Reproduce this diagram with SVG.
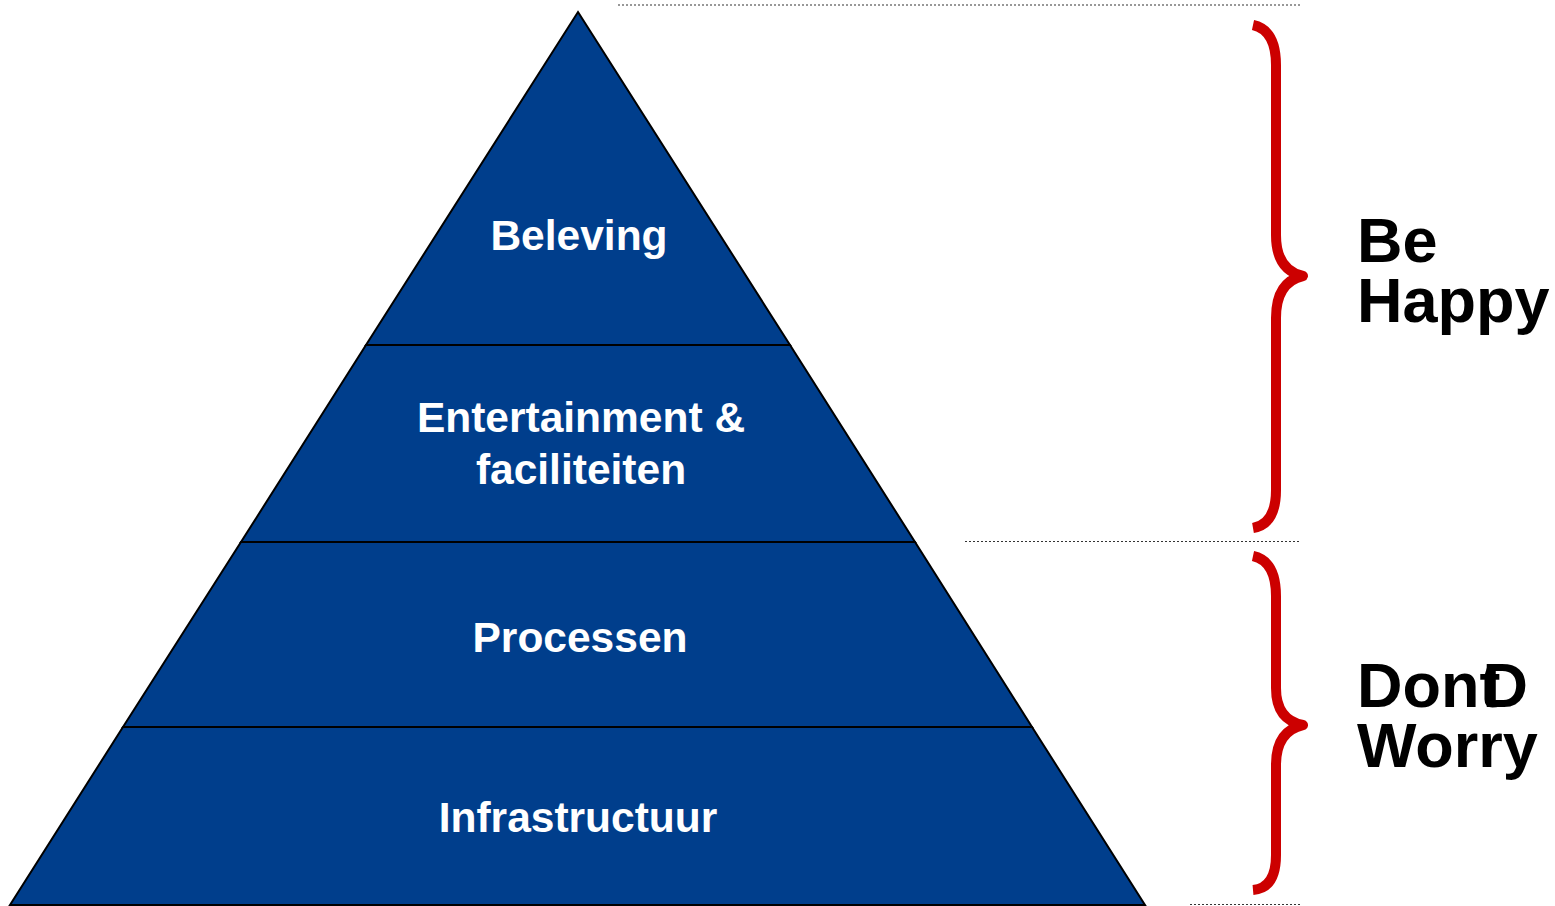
<svg xmlns="http://www.w3.org/2000/svg" width="1555" height="906" viewBox="0 0 1555 906">
<style>
.tier{fill:#003E8C;stroke:#000;stroke-width:2;stroke-linejoin:miter}
.lbl{font-family:"Liberation Sans",Arial,sans-serif;font-weight:bold;font-size:42.5px;fill:#fff;text-anchor:middle}
.big{font-family:"Liberation Sans",Arial,sans-serif;font-weight:bold;font-size:63px;fill:#000}
.dot{stroke:#333;stroke-width:1.2;stroke-dasharray:2 2;fill:none}
.brace{fill:none;stroke:#CC0000;stroke-width:10;stroke-linejoin:round;stroke-linecap:butt}
</style>
<rect width="1555" height="906" fill="#fff"/>
<g id="tier-beleving">
<polygon class="tier" points="578,12 790,345 366,345"/>
<text class="lbl" x="579" y="250">Beleving</text>
</g>
<g id="tier-entertainment">
<polygon class="tier" points="366,345 790,345 915,542 241,542"/>
<text class="lbl" x="581" y="432">Entertainment &amp;</text>
<text class="lbl" x="581" y="484">faciliteiten</text>
</g>
<g id="tier-processen">
<polygon class="tier" points="241,542 915,542 1032,727 123,727"/>
<text class="lbl" x="580" y="652">Processen</text>
</g>
<g id="tier-infrastructuur">
<polygon class="tier" points="123,727 1032,727 1145,905 10,905"/>
<text class="lbl" x="578" y="832">Infrastructuur</text>
</g>
<g id="connectors">
<line class="dot" x1="618" y1="5" x2="1300" y2="5"/>
<line class="dot" x1="965" y1="541.5" x2="1300" y2="541.5"/>
<line class="dot" x1="1190" y1="904.5" x2="1300" y2="904.5"/>
<path class="brace" d="M1253,25 Q1276,30 1276,65 L1276,235 Q1276,270 1303,276 Q1276,282 1276,318 L1276,490 Q1276,524 1253,528"/>
<path class="brace" d="M1253,556 Q1276,561 1276,596 L1276,688 Q1276,720 1303,725 Q1276,731 1276,765 L1276,855 Q1276,888 1253,890"/>
</g>
<g id="label-be-happy">
<text class="big" x="1357" y="262">Be</text>
<text class="big" x="1357" y="322">Happy</text>
</g>
<g id="label-dont-worry">
<text class="big" x="1357" y="707">Don<tspan>t</tspan><tspan dx="-18">D</tspan></text>
<text class="big" x="1357" y="767">Worry</text>
</g>
</svg>
